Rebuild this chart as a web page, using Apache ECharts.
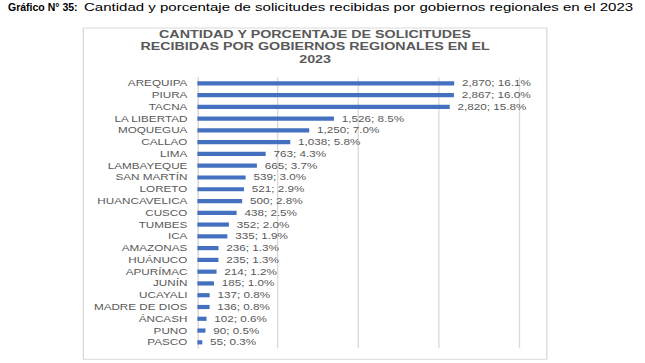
<!DOCTYPE html>
<html>
<head>
<meta charset="utf-8">
<script src="https://cdn.jsdelivr.net/npm/echarts@6/dist/echarts.min.js"></script>
<style>
html,body{margin:0;padding:0;background:#fff;overflow:hidden;}
#wrap{width:645px;height:363px;overflow:hidden;position:relative;}
#chart{width:496px;height:363px;transform:scaleX(1.3004);transform-origin:0 0;position:absolute;left:0;top:0;}
</style>
</head>
<body>
<div id="wrap"><div id="chart"></div></div>
<script>
var categories = ['AREQUIPA','PIURA','TACNA','LA LIBERTAD','MOQUEGUA','CALLAO','LIMA','LAMBAYEQUE','SAN MARTÍN','LORETO','HUANCAVELICA','CUSCO','TUMBES','ICA','AMAZONAS','HUÁNUCO','APURÍMAC','JUNÍN','UCAYALI','MADRE DE DIOS','ÁNCASH','PUNO','PASCO'];
var values = [2870,2867,2820,1526,1250,1038,763,665,539,521,500,438,352,335,236,235,214,185,137,136,102,90,55];
var percents = [16.1,16.0,15.8,8.5,7.0,5.8,4.3,3.7,3.0,2.9,2.8,2.5,2.0,1.9,1.3,1.3,1.2,1.0,0.8,0.8,0.6,0.5,0.3];
var headingBold = 'Gráfico N° 35:';
var headingText = 'Cantidad y porcentaje de solicitudes recibidas por gobiernos regionales en el 2023';
var chartTitle = 'CANTIDAD Y PORCENTAJE DE SOLICITUDES\nRECIBIDAS POR GOBIERNOS REGIONALES EN EL\n2023';

var S = 1.3004;
var FONT = '"Liberation Sans", Arial, sans-serif';
var GRAY = '#595959';

function fmt(n){ return n.toString().replace(/\B(?=(\d{3})+(?!\d))/g, ','); }

var chart = echarts.init(document.getElementById('chart'), null, {renderer:'svg'});
chart.setOption({
  animation:false,
  backgroundColor:'#fff',
  graphic:[
    {type:'rect', shape:{x:64.1, y:28, width:356.4, height:331.3}, style:{fill:'none', stroke:'#d9d9d9', lineWidth:1}},
    {type:'text', x:8/S, y:7.5, scaleX:1/S,
      style:{text:headingBold, fontFamily:FONT, fontSize:10.5, fontWeight:'bold', fill:'#000', verticalAlign:'middle', align:'left'}},
    {type:'text', x:84/S, y:7.5, scaleX:1.365/S,
      style:{text:headingText, fontFamily:FONT, fontSize:11, fill:'#000', verticalAlign:'middle', align:'left'}},
    {type:'text', x:242.3, y:27.5, style:{text:chartTitle, fontFamily:FONT, fontSize:11, fontWeight:'bold', fill:GRAY, align:'center', verticalAlign:'top', lineHeight:12.5}}
  ],
  grid:{left:151.8, top:77.4, width:247.7, bottom:14.8, containLabel:false},
  xAxis:{type:'value', min:0, max:3600, interval:900,
    axisLabel:{show:false}, axisLine:{show:false}, axisTick:{show:false},
    splitLine:{show:true, lineStyle:{color:'#d9d9d9', width:1}}},
  yAxis:{type:'category', data:categories, inverse:true,
    axisLine:{show:true, lineStyle:{color:'#d9d9d9'}}, axisTick:{show:false},
    axisLabel:{color:GRAY, fontFamily:FONT, fontSize:9, margin:7.7}},
  series:[{type:'bar', data:values, barWidth:4.2, itemStyle:{color:'#4470c0'},
    label:{show:true, position:'right', distance:6, color:GRAY, fontFamily:FONT, fontSize:9,
      formatter:function(p){ return fmt(p.value)+'; '+percents[p.dataIndex].toFixed(1)+'%'; }}}]
});
</script>
</body>
</html>
